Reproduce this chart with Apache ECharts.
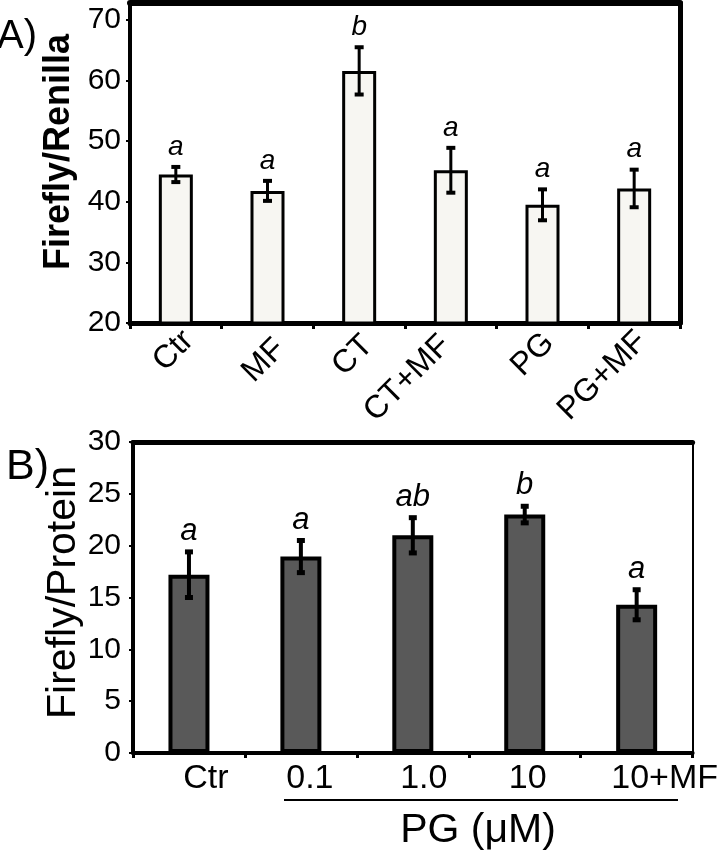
<!DOCTYPE html>
<html>
<head>
<meta charset="utf-8">
<script src="https://cdn.jsdelivr.net/npm/echarts@6/dist/echarts.min.js"></script>
<style>
html,body{margin:0;padding:0;background:#fff;}
#chart{width:721px;height:853px;}
</style>
</head>
<body>
<div id="chart"></div>
<script>
// ---- Data ----
var catsA = ['Ctr', 'MF', 'CT', 'CT+MF', 'PG', 'PG+MF'];
var meansA = [44.5, 41.8, 61.6, 45.2, 39.5, 42.2];
var errsA = [1.25, 1.65, 3.9, 3.7, 2.55, 3.1];
var lettersA = ['a', 'a', 'b', 'a', 'a', 'a'];
var yTicksA = [20, 30, 40, 50, 60, 70];

var catsB = ['Ctr', '0.1', '1.0', '10', '10+MF'];
var meansB = [17.2, 18.95, 21.0, 23.0, 14.3];
var errsB = [2.2, 1.55, 1.7, 0.8, 1.45];
var lettersB = ['a', 'a', 'ab', 'b', 'a'];
var yTicksB = [0, 5, 10, 15, 20, 25, 30];

// ---- Chart ----
var FONT = '"Liberation Sans", Arial, sans-serif';
var chart = echarts.init(document.getElementById('chart'), null, {renderer: 'canvas'});

function errData(means, errs) {
  return means.map(function (m, i) { return [i, m, errs[i]]; });
}

function makeErrRender(letters, lineW, capW, capH, fontSize, gap) {
  return function (params, api) {
    var i = api.value(0), m = api.value(1), e = api.value(2);
    var top = api.coord([i, m + e]);
    var bot = api.coord([i, m - e]);
    var x = top[0];
    return {
      type: 'group',
      children: [
        {type: 'line', shape: {x1: x, y1: top[1], x2: x, y2: bot[1]}, style: {stroke: '#000', lineWidth: lineW}},
        {type: 'rect', shape: {x: x - capW / 2, y: top[1] - capH / 2, width: capW, height: capH}, style: {fill: '#000'}},
        {type: 'rect', shape: {x: x - capW / 2, y: bot[1] - capH / 2, width: capW, height: capH}, style: {fill: '#000'}},
        {type: 'text', x: x, y: top[1] - gap, style: {
          text: letters[params.dataIndex], fill: '#000',
          font: 'italic ' + fontSize + 'px ' + FONT,
          textAlign: 'center', textVerticalAlign: 'bottom'
        }}
      ]
    };
  };
}

// label nudges (layout only): [top padding, right padding]
var labelPadA = [[36, 0], [48, 6], [37, 6], [17, 16], [31, 6], [30, 4]];
var richA = {};
labelPadA.forEach(function (p, i) {
  richA['c' + i] = {fontSize: 32, fontFamily: FONT, color: '#000', padding: [p[0], p[1], 0, 0]};
});
var labelShiftB = [34, 18, 22, 6, 56];

var option = {
  backgroundColor: '#fff',
  animation: false,
  textStyle: {fontFamily: FONT, color: '#000'},
  grid: [
    {left: 130, right: 41, top: 3, bottom: 530, containLabel: false},
    {left: 133, right: 28, top: 442, bottom: 100, containLabel: false}
  ],
  xAxis: [
    {
      gridIndex: 0, type: 'category', position: 'bottom', data: catsA,
      axisLine: {onZero: false, lineStyle: {color: '#000', width: 5}},
      axisTick: {show: true, length: 6, lineStyle: {color: '#000', width: 3}},
      axisLabel: {rotate: 45, fontSize: 32, color: '#000', margin: 0, fontFamily: FONT, interval: 0,
        formatter: function (v, i) { return '{c' + i + '|' + v + '}'; }, rich: richA}
    },
    {
      gridIndex: 0, type: 'category', data: catsA, position: 'top',
      axisLine: {onZero: false, lineStyle: {color: '#000', width: 6}},
      axisTick: {show: false}, axisLabel: {show: false}
    },
    {
      gridIndex: 1, type: 'category', position: 'bottom',
      data: catsB.map(function (c, i) { return {value: c, textStyle: {padding: [0, 0, 0, labelShiftB[i]]}}; }),
      axisLine: {onZero: false, lineStyle: {color: '#000', width: 4}},
      axisTick: {show: true, length: 5, lineStyle: {color: '#000', width: 3}},
      axisLabel: {fontSize: 34, color: '#000', margin: 9, fontFamily: FONT, interval: 0}
    },
    {
      gridIndex: 1, type: 'category', data: catsB, position: 'top',
      axisLine: {onZero: false, lineStyle: {color: '#000', width: 5}},
      axisTick: {show: false}, axisLabel: {show: false}
    }
  ],
  yAxis: [
    {
      gridIndex: 0, type: 'value', min: yTicksA[0], max: 72.8, interval: 10, position: 'left',
      name: 'Firefly/Renilla', nameLocation: 'middle', nameGap: 53, nameRotate: 90,
      nameTextStyle: {fontSize: 36, fontWeight: 'bold', color: '#000', fontFamily: FONT, padding: [0, 0, 0, 22]},
      axisLine: {show: true, onZero: false, lineStyle: {color: '#000', width: 4}},
      axisTick: {show: true, length: 4, lineStyle: {color: '#000', width: 2}},
      axisLabel: {fontSize: 30, color: '#000', margin: 9, fontFamily: FONT, showMaxLabel: false,
        formatter: function (v) { return yTicksA.indexOf(v) >= 0 ? String(v) : ''; }},
      splitLine: {show: false}
    },
    {
      gridIndex: 0, type: 'value', min: yTicksA[0], max: 72.8, interval: 10, position: 'right',
      axisLine: {show: true, onZero: false, lineStyle: {color: '#000', width: 5}},
      axisTick: {show: false}, axisLabel: {show: false}, splitLine: {show: false}
    },
    {
      gridIndex: 1, type: 'value', min: yTicksB[0], max: yTicksB[yTicksB.length - 1], interval: 5, position: 'left',
      name: 'Firefly/Protein', nameLocation: 'middle', nameGap: 49, nameRotate: 90, nameMoveOverlap: false,
      nameTextStyle: {fontSize: 41, color: '#000', fontFamily: FONT, padding: [0, 0, 0, 10]},
      axisLine: {show: true, onZero: false, lineStyle: {color: '#000', width: 4}},
      axisTick: {show: true, length: 4, lineStyle: {color: '#000', width: 2}},
      axisLabel: {fontSize: 30, color: '#000', margin: 12, fontFamily: FONT},
      splitLine: {show: false}
    },
    {
      gridIndex: 1, type: 'value', min: yTicksB[0], max: yTicksB[yTicksB.length - 1], interval: 5, position: 'right',
      axisLine: {show: true, onZero: false, lineStyle: {color: '#000', width: 2}},
      axisTick: {show: false}, axisLabel: {show: false}, splitLine: {show: false}
    }
  ],
  series: [
    {
      type: 'bar', xAxisIndex: 0, yAxisIndex: 0, data: meansA, barWidth: 34,
      itemStyle: {color: '#f7f6f2', borderColor: '#000', borderWidth: 3}
    },
    {
      type: 'custom', xAxisIndex: 0, yAxisIndex: 0, z: 5, data: errData(meansA, errsA),
      renderItem: makeErrRender(lettersA, 3, 9, 4, 28, 6)
    },
    {
      type: 'bar', xAxisIndex: 2, yAxisIndex: 2, data: meansB, barWidth: 41,
      itemStyle: {color: '#595959', borderColor: '#000', borderWidth: 4}
    },
    {
      type: 'custom', xAxisIndex: 2, yAxisIndex: 2, z: 5, data: errData(meansB, errsB),
      renderItem: makeErrRender(lettersB, 4, 8, 5, 31, 5)
    }
  ],
  graphic: [
    {type: 'text', left: -3, top: 17, style: {text: 'A)', font: '40px ' + FONT, fill: '#000'}},
    {type: 'text', left: 6, top: 446, style: {text: 'B)', font: '43px ' + FONT, fill: '#000'}},
    {type: 'line', shape: {x1: 284, y1: 800, x2: 678, y2: 800}, style: {stroke: '#000', lineWidth: 2}},
    {type: 'text', x: 478, y: 831, style: {text: 'PG (\u03BCM)', font: '41px ' + FONT, fill: '#000', textAlign: 'center', textVerticalAlign: 'middle'}}
  ]
};
chart.setOption(option);
</script>
</body>
</html>
